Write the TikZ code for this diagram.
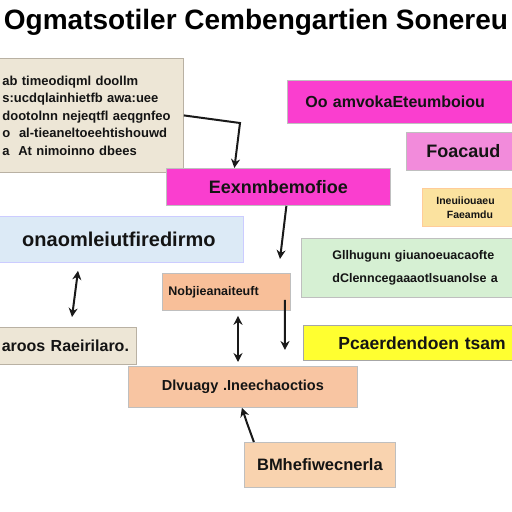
\documentclass[tikz,border=0pt]{standalone}
\usepackage{fontspec}
\setmainfont{Liberation Sans}
\usetikzlibrary{arrows.meta, positioning, calc}
\definecolor{notebg}{HTML}{EDE6D6}
\definecolor{notedraw}{HTML}{B9B1A3}
\definecolor{magentabg}{HTML}{FA3ECF}
\definecolor{pinkbg}{HTML}{F28BDB}
\definecolor{amberbg}{HTML}{FBE29F}
\definecolor{bluebg}{HTML}{DCEAF6}
\definecolor{greenbg}{HTML}{D6F0D3}
\definecolor{peachbg}{HTML}{F8BF99}
\definecolor{yellowbg}{HTML}{FFFF30}
\definecolor{peachlt}{HTML}{F8C5A2}
\definecolor{peachxl}{HTML}{F9D3AF}
\newcommand{\boxfont}[2]{\fontsize{#1}{#2}\selectfont\bfseries}
\tikzset{
    base/.style={draw=black!25, line width=0.8pt, text=black!92, inner ysep=2pt},
    panel/.style={base, rectangle, anchor=north west, align=left},
    centred/.style={panel, align=center},
    arrow/.style={-{Stealth[length=9pt,width=9pt]}, line width=2pt, draw=black!90},
    twoway/.style={arrow, {Stealth[length=9pt,width=9pt]}-{Stealth[length=9pt,width=9pt]}}
}

\begin{document}
\begin{tikzpicture}[x=1pt, y=-1pt]
    \clip (0,0) rectangle (512,512);
    \fill [white] (0,0) rectangle (512,512);

    % Title
    \node (title) at (256,22) [font=\boxfont{28}{30}] {Ogmatsotiler Cembengartien Sonereu};

    % Left column
    \node (notes) [panel, fill=notebg, draw=notedraw, minimum height=114pt, text width=177pt, inner xsep=4pt, font=\boxfont{13}{17.5}] at (-2,58)
        {ab timeodiqml doollm\\ s:ucdqlainhietfb awa:uee\\ dootolnn nejeqtfl aeqgnfeo\\ o\ \ al-tieaneltoeehtishouwd\\ a\ \ At nimoinno dbees};
    \node (overview) [centred, fill=bluebg, draw=blue!20, minimum height=46pt, text width=239pt, inner xsep=5pt, font=\boxfont{20}{22}] at (-6,216) {onaomleiutfiredirmo};
    \node (result) [centred, fill=notebg, draw=notedraw, minimum height=37pt, text width=132pt, inner xsep=5pt, font=\boxfont{16}{18}] at (-6,327) {aroos Raeirilaro.};

    % Middle column
    \node (engine) [centred, fill=magentabg, minimum height=37pt, text width=214pt, inner xsep=5pt, font=\boxfont{18}{20}] at (166,168) {Eexnmbemofioe};
    \node (module) [panel, fill=peachbg, minimum height=37pt, text width=116pt, inner xsep=6pt, font=\boxfont{12.5}{14}] at (162,273) {Nobjieanaiteuft};
    \node (display) [centred, fill=peachlt, minimum height=41pt, text width=219pt, inner xsep=5pt, font=\boxfont{14.5}{16}] at (128,366) {Dlvuagy .Ineechaoctios};
    \node (output) [centred, fill=peachxl, minimum height=45pt, text width=141pt, inner xsep=5pt, font=\boxfont{16.5}{18}] at (244,442) {BMhefiwecnerla};

    % Right column
    \node (banner) [panel, fill=magentabg, minimum height=43pt, text width=240pt, inner xsep=18pt, font=\boxfont{16}{18}] at (287,80) {Oo amvokaEteumboiou};
    \node (focus) [panel, fill=pinkbg, minimum height=38pt, text width=120pt, inner xsep=20pt, font=\boxfont{18}{20}] at (406,132) {Foacaud};
    \node (inputs) [panel, fill=amberbg, draw=orange!40, minimum height=38pt, text width=120pt, inner xsep=14pt, font=\boxfont{10.5}{14}] at (422,188) {Ineuiiouaeu\\ \ \ \ Faeamdu};
    \node (checks) [panel, fill=greenbg, minimum height=59pt, text width=220pt, inner xsep=31pt, font=\boxfont{12.5}{23}] at (301,238) {Gllhugunı giuanoeuacaofte\\ dClenncegaaaotlsuanolse a};
    \node (pending) [panel, fill=yellowbg, draw=black!35, minimum height=35pt, text width=220pt, inner xsep=35pt, font=\boxfont{17.5}{20}] at (303,325) {Pcaerdendoen tsam};

    % Flows
    \coordinate (elbow) at (240,123);
    \coordinate (drop) at (280,259);
    \coordinate (stub) at (285,350);
    \coordinate (kink) at (247,423);
    \draw [arrow] (notes.east) -- (elbow) -- ([xshift=-44pt]engine.north);
    \draw [arrow] ([xshift=8pt]engine.south) -- (drop);
    \draw [twoway] ([xshift=84pt,yshift=-8pt]overview.south west) -- ([xshift=78pt,yshift=10pt]result.north west);
    \draw [twoway] ([xshift=76pt,yshift=-5pt]module.south west) -- ([xshift=110pt,yshift=4pt]display.north west);
    \draw [arrow] ([xshift=-6pt,yshift=11pt]module.south east) -- (stub);
    \draw [arrow] ([xshift=-66pt]output.north) -- (kink) -- ([xshift=-1pt]display.south);
\end{tikzpicture}
\end{document}
